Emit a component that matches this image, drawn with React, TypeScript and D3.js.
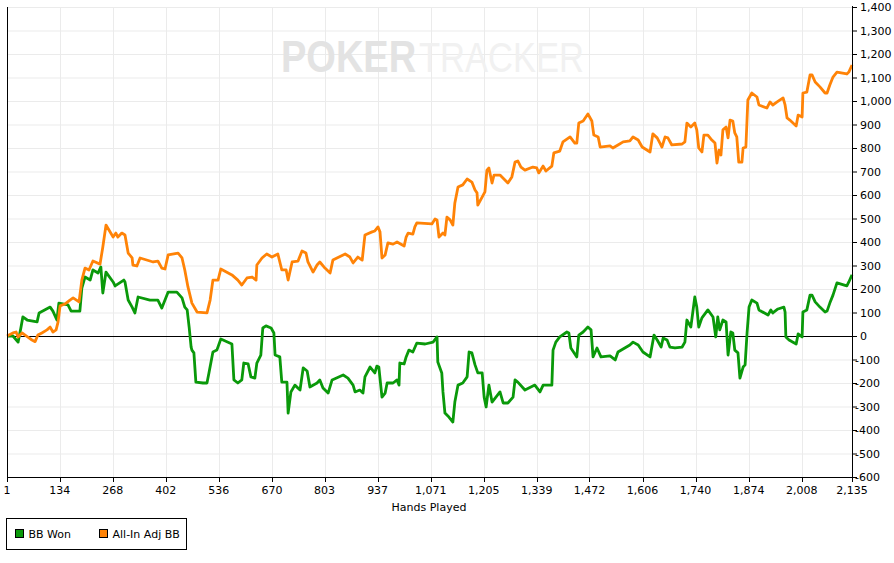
import React from 'react';
import * as d3 from 'd3';

// hands played axis ticks
const handTicks = [1, 134, 268, 402, 536, 670, 803, 937, 1071, 1205, 1339, 1472, 1606, 1740, 1874, 2008, 2135];
const bbTicks = d3.range(-600, 1401, 100);

// [hand, big blinds]
const bbWon: [number, number][] = [
  [1, 0], [16, 0], [29, -26], [36, 34], [41, 81], [52, 68], [77, 60], [82, 98], [110, 123], [117, 106],
  [127, 68], [132, 140], [155, 132], [163, 106], [185, 106], [190, 204], [198, 251], [211, 238], [218, 281],
  [231, 268], [238, 294], [243, 183], [251, 272], [269, 230], [274, 213], [296, 238], [299, 230], [307, 153],
  [317, 123], [324, 98], [332, 166], [362, 153], [382, 153], [392, 119], [408, 187], [430, 187], [443, 162],
  [450, 123], [456, 111], [461, 38], [466, -47], [468, -60], [473, -72], [478, -196], [496, -200], [506, -200],
  [511, -157], [521, -68], [531, -60], [541, -13], [569, -34], [574, -187], [584, -200], [594, -187],
  [599, -115], [610, -119], [617, -174], [627, -179], [632, -115], [642, -81], [647, 34], [655, 43], [668, 34],
  [675, 13], [678, -81], [690, -89], [695, -196], [708, -196], [711, -328], [718, -238], [728, -209],
  [741, -230], [749, -136], [759, -149], [766, -217], [784, -200], [791, -187], [799, -221], [812, -243],
  [822, -187], [850, -166], [862, -179], [875, -209], [880, -238], [892, -230], [900, -243], [905, -174],
  [918, -132], [930, -157], [935, -128], [940, -132], [948, -260], [956, -243], [961, -200], [976, -200],
  [986, -187], [991, -209], [993, -115], [1004, -119], [1009, -89], [1016, -60], [1026, -68], [1036, -30],
  [1057, -34], [1077, -26], [1087, -4], [1089, -111], [1099, -157], [1102, -238], [1107, -328], [1117, -345],
  [1127, -366], [1132, -281], [1140, -209], [1152, -200], [1163, -174], [1168, -68], [1175, -72], [1183, -123],
  [1190, -157], [1201, -157], [1206, -260], [1211, -302], [1218, -209], [1226, -281], [1246, -238],
  [1254, -285], [1266, -285], [1279, -260], [1284, -187], [1291, -196], [1309, -230], [1334, -209],
  [1347, -238], [1355, -209], [1377, -209], [1380, -60], [1387, -26], [1397, -4], [1415, 17], [1420, 13],
  [1425, -51], [1440, -89], [1445, 4], [1456, 17], [1468, 38], [1476, 26], [1481, -89], [1491, -51],
  [1501, -89], [1524, -85], [1537, -102], [1544, -68], [1574, -38], [1582, -26], [1595, -38], [1607, -68],
  [1625, -89], [1635, 4], [1643, -17], [1653, -47], [1658, -9], [1668, -17], [1675, -47], [1688, -51],
  [1706, -47], [1713, -26], [1718, 68], [1728, 38], [1738, 166], [1743, 123], [1748, 38], [1756, 77],
  [1771, 111], [1784, 81], [1791, -4], [1796, 81], [1801, 26], [1809, 68], [1817, 60], [1822, -81],
  [1829, 17], [1834, 13], [1839, -60], [1847, -72], [1852, -179], [1860, -132], [1865, -123], [1870, 13],
  [1875, 123], [1882, 153], [1895, 140], [1900, 111], [1923, 89], [1930, 111], [1935, 98], [1948, 115],
  [1963, 123], [1966, 102], [1968, -4], [1976, -17], [1994, -34], [1999, 9], [2009, -4], [2011, 102],
  [2021, 111], [2029, 174], [2034, 174], [2042, 145], [2054, 123], [2067, 102], [2072, 106], [2079, 140],
  [2087, 174], [2097, 226], [2122, 213], [2127, 230], [2135, 260],
];

const allInAdj: [number, number][] = [
  [1, 0], [16, 13], [24, 17], [29, -4], [39, 13], [52, -3], [64, -17], [72, -24], [79, 4], [89, 13],
  [102, 26], [110, 38], [117, 17], [125, 26], [130, 60], [135, 128], [147, 136], [160, 153], [168, 162],
  [183, 145], [190, 238], [198, 289], [208, 281], [218, 319], [236, 306], [243, 379], [251, 472], [269, 421],
  [276, 438], [281, 421], [291, 438], [299, 430], [307, 353], [317, 332], [319, 302], [329, 298], [337, 332],
  [362, 319], [370, 315], [382, 319], [392, 289], [400, 285], [408, 345], [433, 353], [443, 332], [450, 281],
  [458, 209], [468, 140], [481, 102], [506, 98], [514, 153], [521, 238], [534, 238], [541, 285], [569, 260],
  [584, 238], [594, 217], [607, 247], [620, 251], [630, 238], [632, 302], [645, 332], [657, 349], [670, 336],
  [685, 349], [695, 281], [706, 281], [711, 238], [721, 315], [736, 319], [746, 362], [756, 353], [761, 315],
  [774, 272], [784, 302], [791, 315], [804, 289], [817, 268], [824, 323], [855, 349], [867, 336], [875, 311],
  [887, 336], [898, 323], [905, 430], [923, 443], [930, 447], [938, 464], [943, 443], [948, 332], [956, 345],
  [963, 396], [976, 391], [986, 400], [1004, 383], [1009, 421], [1014, 438], [1026, 434], [1031, 464],
  [1036, 481], [1074, 477], [1082, 498], [1087, 494], [1092, 421], [1102, 438], [1107, 430], [1112, 506],
  [1120, 494], [1127, 472], [1132, 566], [1140, 634], [1152, 643], [1163, 668], [1175, 655], [1183, 621],
  [1188, 609], [1190, 557], [1208, 613], [1213, 706], [1218, 715], [1226, 651], [1231, 685], [1246, 685],
  [1266, 651], [1276, 677], [1284, 740], [1291, 745], [1299, 719], [1309, 706], [1329, 719], [1339, 715],
  [1344, 694], [1355, 723], [1362, 702], [1377, 723], [1382, 779], [1397, 787], [1405, 826], [1423, 847],
  [1435, 821], [1440, 821], [1445, 906], [1456, 915], [1468, 945], [1478, 915], [1483, 855], [1494, 847],
  [1499, 804], [1524, 809], [1531, 800], [1544, 813], [1557, 826], [1574, 830], [1582, 847], [1595, 834],
  [1605, 804], [1625, 783], [1632, 860], [1643, 843], [1650, 821], [1655, 804], [1663, 847], [1670, 843],
  [1680, 813], [1706, 817], [1713, 826], [1718, 906], [1728, 889], [1738, 906], [1743, 877], [1748, 800],
  [1756, 783], [1761, 855], [1771, 855], [1781, 834], [1789, 821], [1794, 736], [1799, 791], [1804, 770],
  [1809, 877], [1817, 889], [1822, 843], [1827, 919], [1834, 915], [1839, 864], [1844, 847], [1849, 740],
  [1857, 740], [1860, 800], [1867, 804], [1872, 1004], [1882, 1034], [1895, 1017], [1900, 983], [1920, 970],
  [1928, 996], [1935, 983], [1946, 996], [1961, 1013], [1966, 983], [1971, 928], [1978, 919], [1994, 894],
  [1999, 940], [2009, 932], [2011, 1034], [2021, 1038], [2029, 1111], [2034, 1111], [2042, 1081],
  [2054, 1060], [2067, 1034], [2072, 1034], [2079, 1068], [2087, 1102], [2097, 1123], [2122, 1115],
  [2127, 1123], [2135, 1153],
];

const series = [
  { name: 'BB Won', color: '#0a990a', data: bbWon },
  { name: 'All-In Adj BB', color: '#ff8307', data: allInAdj },
];

const W = 894;
const H = 563;
const left = 7;
const right = 852;
const top = 7;
const bottom = 477;
const font = '"DejaVu Sans", Verdana, sans-serif';
const markFont = '"Liberation Sans", Arial, sans-serif';

export default function App() {
  const x = d3.scaleLinear().domain([1, 2135]).range([left, right]);
  const y = d3.scaleLinear().domain([-600, 1400]).range([bottom, top]);
  const fmt = d3.format(',');
  const line = d3.line<[number, number]>()
    .x(d => x(d[0]))
    .y(d => y(d[1]));

  return (
    <svg width={W} height={H} style={{ position: 'absolute', left: 0, top: 0, background: '#fff' }}
      fontFamily={font}>
      {/* grid */}
      {bbTicks.map(t => (
        <line key={'h' + t} x1={left} x2={right} y1={y(t) + 0.5} y2={y(t) + 0.5} stroke="#ebebeb" />
      ))}
      {handTicks.map(t => (
        <line key={'v' + t} x1={Math.round(x(t)) + 0.5} x2={Math.round(x(t)) + 0.5} y1={top} y2={bottom} stroke="#ebebeb" />
      ))}

      {/* watermark */}
      <g transform="translate(0,72) scale(1,1.18) translate(0,-72)">
        <text x={281} y={72} fontSize={38} fontWeight="bold" fill="#e3e3e3" fontFamily={markFont}>POKER</text>
      </g>
      <g transform="translate(0,72) scale(1,1.25) translate(0,-72)">
        <text x={419} y={72} fontSize={34.5} fill="#f1f1f1" fontFamily={markFont}>TRACKER</text>
      </g>

      {/* zero line */}
      <line x1={left} x2={right} y1={y(0) + 0.5} y2={y(0) + 0.5} stroke="#000" />

      {series.map(s => (
        <path key={s.name} d={line(s.data) || ''} fill="none" stroke={s.color} strokeWidth={2.8}
          strokeLinejoin="round" />
      ))}

      {/* axes */}
      <line x1={left + 0.5} x2={left + 0.5} y1={top} y2={bottom} stroke="#000" />
      <line x1={right + 0.5} x2={right + 0.5} y1={top - 1} y2={bottom + 1} stroke="#000" />
      <line x1={left} x2={right + 1} y1={bottom + 0.5} y2={bottom + 0.5} stroke="#000" />

      {bbTicks.map(t => (
        <g key={'yt' + t}>
          <line x1={right} x2={right + 5} y1={y(t) + 0.5} y2={y(t) + 0.5} stroke="#000" />
          <text x={t < 0 ? 855 : 860} y={y(t) + 4} fontSize={11} fill="#000">{fmt(t).replace('−', '-')}</text>
        </g>
      ))}

      {handTicks.map(t => (
        <g key={'xt' + t}>
          <line x1={Math.round(x(t)) + 0.5} x2={Math.round(x(t)) + 0.5} y1={bottom} y2={bottom + 5} stroke="#000" />
          <text x={x(t)} y={494} fontSize={11} textAnchor="middle" fill="#000">{fmt(t)}</text>
        </g>
      ))}

      <text x={429} y={511} fontSize={11} textAnchor="middle" fill="#000">Hands Played</text>

      {/* legend */}
      <rect x={6.5} y={518.5} width={180} height={31} fill="#fff" stroke="#000" />
      {series.map((s, i) => {
        const lx = i === 0 ? 15.5 : 99.5;
        return (
          <g key={'lg' + s.name}>
            <rect x={lx} y={529.5} width={8} height={8} fill={s.color} stroke="#000" />
            <text x={lx + 13} y={538} fontSize={11} fill="#000">{s.name}</text>
          </g>
        );
      })}
    </svg>
  );
}
